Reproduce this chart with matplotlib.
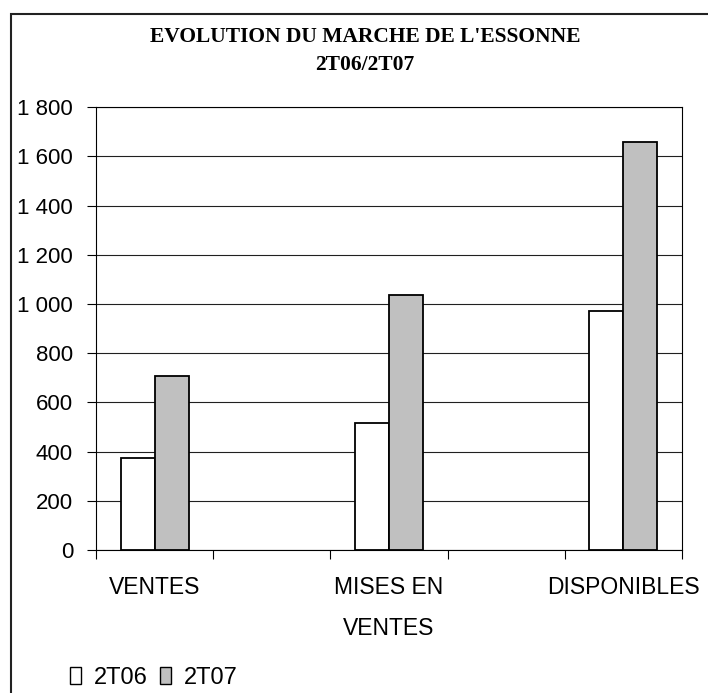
import numpy as np
import matplotlib.pyplot as plt
from matplotlib.patches import Patch, Rectangle

# Données
categories = ["VENTES", "MISES EN\nVENTES", "DISPONIBLES"]
series = ["2T06", "2T07"]
val_2t06 = [373, 515, 971]
val_2t07 = [708, 1038, 1657]
yticks = [0, 200, 400, 600, 800, 1000, 1200, 1400, 1600, 1800]
ytick_labels = ["0", "200", "400", "600", "800", "1 000", "1 200", "1 400", "1 600", "1 800"]
title_l1 = "EVOLUTION DU MARCHE DE L'ESSONNE"
title_l2 = "2T06/2T07"

plt.rcParams['font.family'] = ['Liberation Sans', 'DejaVu Sans']

fig = plt.figure(figsize=(7.08, 6.93), dpi=100)
ax = fig.add_axes([96/708, 1-550/693, (682-96)/708, (550-107.3)/693])

# 5 emplacements, les catégories occupent 0, 2 et 4
pos = np.arange(len(categories)) * 2
w = 0.29
ax.bar(pos - w/2, val_2t06, w, color='white', edgecolor='black', linewidth=1.3, zorder=3)
ax.bar(pos + w/2, val_2t07, w, color='#c0c0c0', edgecolor='black', linewidth=1.3, zorder=3)

ax.set_xlim(-0.5, 4.5)
ax.set_ylim(0, 1800)
ax.set_yticks(yticks)
ax.set_yticklabels(ytick_labels, fontsize=16)
ax.tick_params(axis='y', direction='out', length=6.5, width=0.8, pad=10)

ax.set_xticks(np.arange(-0.5, 5, 1.0))
ax.set_xticklabels([])
ax.tick_params(axis='x', which='major', direction='out', length=6.5, width=0.8)
ax.set_xticks(pos, minor=True)
ax.set_xticklabels(categories, minor=True, fontsize=16.5, linespacing=2.0)
ax.tick_params(axis='x', which='minor', length=0, pad=19)

ax.grid(axis='y', color='#202020', linewidth=0.8, zorder=0)
for s in ax.spines.values():
    s.set_color('black')
    s.set_linewidth(0.8)

# Titre
fig.text(365/708, 1-42.3/693, title_l1, ha='center', va='baseline',
         family='Liberation Serif', weight='bold', fontsize=15.5)
fig.text(365/708, 1-70/693, title_l2, ha='center', va='baseline',
         family='Liberation Serif', weight='bold', fontsize=15.5)

# Légende
handles = [Patch(facecolor='white', edgecolor='black', linewidth=1),
           Patch(facecolor='#c0c0c0', edgecolor='black', linewidth=1)]
fig.legend(handles, series, loc='center left', bbox_to_anchor=(70/708, 1-678/693),
           ncol=2, frameon=False, fontsize=17, borderpad=0, borderaxespad=0,
           handlelength=0.45, handleheight=0.7, handletextpad=0.55, columnspacing=0.55)

# Cadre extérieur
fig.add_artist(Rectangle((10.5/708, -0.1), 1.2, 1.1 - 13.7/693, transform=fig.transFigure,
                         fill=False, edgecolor='#222222', linewidth=1.5))

plt.savefig("out.png", dpi=100)
